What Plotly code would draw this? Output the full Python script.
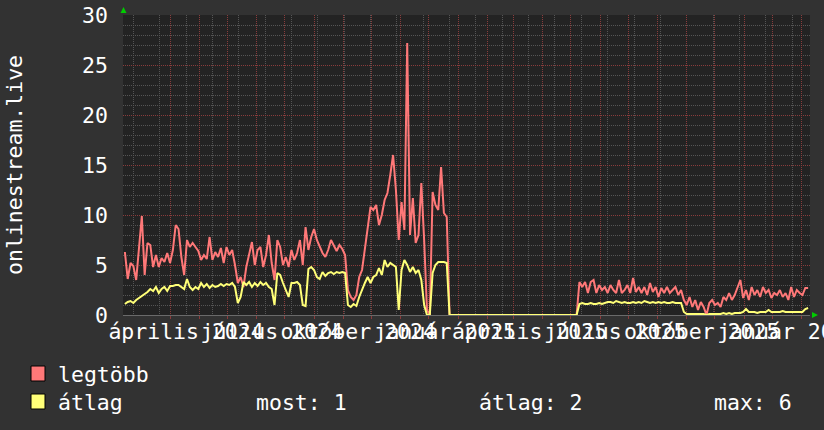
import pandas as pd
import plotly.graph_objects as go

# ---------------- data ----------------
start_date = "2024-01-27"
step_days = 3

legtobb = [
    6.3, 3.6, 5.2, 4.9, 3.5, 7.0, 9.9, 4.0, 7.2, 7.0,
    4.8, 6.0, 4.8, 5.7, 5.3, 6.2, 5.2, 6.5, 9.0, 8.6,
    5.8, 4.0, 7.5, 6.8, 7.2, 6.8, 6.4, 5.5, 6.0, 5.6,
    7.8, 5.5, 6.3, 5.8, 6.7, 5.2, 6.8, 6.0, 6.5, 5.0,
    3.2, 3.8, 2.8, 4.8, 6.0, 7.3, 5.0, 6.5, 6.8, 4.8,
    6.0, 8.0, 5.2, 3.5, 7.5, 6.8, 5.0, 5.8, 4.8, 6.5,
    5.5, 6.2, 7.5, 5.0, 8.8, 6.5, 7.8, 8.6, 7.5, 6.8,
    6.2, 5.8, 6.5, 7.5, 7.0, 6.4, 7.0, 6.6, 6.0, 2.5,
    1.8, 1.5, 2.0, 3.8, 4.5, 6.8, 8.5, 10.8, 10.5, 11.0,
    9.0, 10.0, 11.5, 12.2, 14.0, 16.0, 12.5, 7.5, 11.3, 8.5,
    27.2, 8.0, 11.7, 7.2, 8.0, 13.2, 7.5, 0.5, 0.0, 12.3,
    11.0, 10.5, 14.8, 10.2, 9.8,
    0, 0, 0, 0, 0, 0, 0, 0, 0, 0, 0, 0, 0, 0, 0, 0, 0, 0, 0, 0, 0, 0, 0,
    0, 0, 0, 0, 0, 0, 0, 0, 0, 0, 0, 0, 0, 0, 0, 0, 0, 0, 0, 0, 0, 0, 0,
    3.3, 2.8, 3.3, 2.2, 3.3, 3.5, 2.2, 3.0, 2.5, 2.8,
    2.2, 3.0, 2.5, 2.2, 3.5, 2.2, 2.5, 3.0, 2.2, 3.7,
    2.3, 2.8, 2.2, 2.8, 2.0, 3.2, 2.3, 2.8, 1.8, 2.7,
    2.2, 2.8, 2.2, 2.5, 2.8, 2.0, 2.5, 1.5, 1.0, 1.8,
    0.8, 1.5, 0.5, 1.3, 0.8, 0.0, 1.2, 1.5, 1.0, 1.2,
    0.8, 1.8, 1.5, 2.2, 1.5, 2.0, 2.8, 3.5, 1.7, 2.5,
    1.5, 2.8, 2.0, 2.5, 1.8, 2.8, 2.2, 2.5, 1.7, 2.2,
    2.0, 2.5, 1.8, 2.2, 1.5, 2.8, 1.8, 2.5, 2.2, 2.0,
    2.7, 2.7,
]

atlag = [
    1.1, 1.3, 1.4, 1.2, 1.5, 1.7, 1.9, 2.1, 2.3, 2.6,
    2.4, 2.8, 2.2, 2.6, 2.8, 2.4, 2.9, 2.9, 3.0, 3.0,
    2.8, 2.6, 3.6, 2.8, 2.5, 2.8, 2.6, 3.2, 2.8, 3.1,
    2.7, 3.0, 2.8, 2.9, 3.1, 2.9, 3.1, 3.0, 3.2, 2.8,
    1.2, 1.8, 3.3, 3.0, 3.3, 2.8, 3.2, 2.9, 3.3, 3.0,
    3.2, 2.8, 2.6, 1.0, 4.2, 4.0, 3.2, 2.5, 1.8, 3.2,
    3.2, 3.3, 3.0, 1.0, 0.9, 4.6, 4.8, 4.5, 3.8, 3.6,
    4.3, 3.9, 4.2, 4.3, 4.1, 4.3, 4.2, 4.3, 4.2, 1.0,
    0.8, 1.1, 0.9, 1.8, 2.6, 3.2, 3.8, 3.2, 3.8, 4.0,
    4.7, 4.0, 5.5, 4.8, 5.2, 5.0, 4.8, 0.5, 4.5, 5.5,
    5.0, 4.3, 4.8, 4.2, 4.5, 3.5, 1.0, 0.0, 0.0, 4.2,
    5.0, 5.3, 5.3, 5.3, 5.2,
    0, 0, 0, 0, 0, 0, 0, 0, 0, 0, 0, 0, 0, 0, 0, 0, 0, 0, 0, 0, 0, 0, 0,
    0, 0, 0, 0, 0, 0, 0, 0, 0, 0, 0, 0, 0, 0, 0, 0, 0, 0, 0, 0, 0, 0, 0,
    1.1, 1.2, 1.1, 1.1, 1.2, 1.1, 1.1, 1.2, 1.1, 1.2,
    1.3, 1.3, 1.2, 1.4, 1.3, 1.2, 1.3, 1.2, 1.2, 1.3,
    1.2, 1.3, 1.2, 1.4, 1.3, 1.2, 1.3, 1.2, 1.3, 1.2,
    1.3, 1.2, 1.2, 1.3, 1.2, 1.2, 1.2, 0.3, 0.1, 0.1,
    0.1, 0.1, 0.1, 0.1, 0.1, 0.0, 0.1, 0.1, 0.1, 0.1,
    0.1, 0.2, 0.1, 0.2, 0.1, 0.2, 0.2, 0.2, 0.3, 0.6,
    0.3, 0.3, 0.3, 0.2, 0.3, 0.3, 0.3, 0.5, 0.3, 0.3,
    0.3, 0.3, 0.4, 0.3, 0.3, 0.3, 0.3, 0.3, 0.3, 0.3,
    0.6, 0.7,
]

x_range = ["2024-01-25", "2026-01-24"]
label_dates = ["2024-04-01", "2024-07-01", "2024-10-01", "2025-01-01",
               "2025-04-01", "2025-07-01", "2025-10-01", "2026-01-01"]
label_text = ["április 2024", "július 2024", "október 2024", "január 2025",
              "április 2025", "július 2025", "október 2025", "január 2026"]
major_grid_dates = [d.strftime("%Y-%m-%d") for d in
                    pd.date_range("2024-02-15", "2026-01-15", freq="MS") + pd.Timedelta(days=14)]
minor_grid_dates = [d.strftime("%Y-%m-%d") for d in
                    pd.date_range("2024-02-05", "2026-01-24", freq="28D")]
y_ticks = [0, 5, 10, 15, 20, 25, 30]

series_names = ["legtöbb", "átlag"]
stats_text = ["most: 1", "átlag: 2", "max: 6"]
y_title = "onlinestream.live"

dates = pd.date_range(start_date, periods=len(legtobb), freq=f"{step_days}D")

# ---------------- style ----------------
FONT = "DejaVu Sans Mono"
FS = 21.5
PAPER = "#323232"
PLOT = "#232323"
RED = "#ff7878"
YEL = "#ffff78"
MAJOR = "#8a3c3c"
MINOR = "#555555"
TXT = "#ffffff"

W, H = 824, 430
L, R, T, B = 123, 14, 15, 115
PW, PH = W - L - R, H - T - B


def px(X):
    return (X - L) / PW


def py(Y):
    return (T + PH - Y) / PH


fig = go.Figure()
fig.add_trace(go.Scatter(x=dates, y=legtobb, mode="lines", name=series_names[0],
                         line=dict(color=RED, width=2), showlegend=False))
fig.add_trace(go.Scatter(x=dates, y=atlag, mode="lines", name=series_names[1],
                         line=dict(color=YEL, width=2), showlegend=False))
# invisible trace to carry the major-grid axis
fig.add_trace(go.Scatter(x=[x_range[0]], y=[0], xaxis="x2", mode="markers",
                         marker=dict(opacity=0), showlegend=False, hoverinfo="skip"))

fig.update_layout(
    width=W, height=H,
    margin=dict(l=L, r=R, t=T, b=B, autoexpand=False),
    paper_bgcolor=PAPER, plot_bgcolor=PLOT,
    font=dict(family=FONT, size=FS, color=TXT),
    xaxis=dict(
        type="date", range=x_range, automargin=False,
        tickmode="array", tickvals=label_dates, ticktext=label_text, tickangle=0,
        ticklabeloverflow="allow", ticklabelstandoff=-3,
        showgrid=False, zeroline=False, ticks="",
        tickfont=dict(family=FONT, size=FS, color=TXT),
        showline=True, linecolor="#6a6a6a", linewidth=1,
        minor=dict(tickmode="array", tickvals=minor_grid_dates, showgrid=True,
                   gridcolor=MINOR, griddash="1px,1px", gridwidth=1, ticks=""),
    ),
    xaxis2=dict(
        type="date", range=x_range, overlaying="x", side="bottom", automargin=False,
        tickmode="array", tickvals=major_grid_dates, showticklabels=False,
        showgrid=True, gridcolor=MAJOR, griddash="1px,1px", gridwidth=1,
        zeroline=False, ticks="outside", ticklen=3, tickcolor=MAJOR,
    ),
    yaxis=dict(
        range=[0, 30], tickmode="array", tickvals=y_ticks, automargin=False,
        showgrid=True, gridcolor=MAJOR, griddash="1px,1px", gridwidth=1,
        zeroline=False, ticks="", ticklabelstandoff=14,
        tickfont=dict(family=FONT, size=FS, color=TXT),
        minor=dict(dtick=1, showgrid=True, gridcolor=MINOR, griddash="1px,1px",
                   gridwidth=1, ticks=""),
    ),
)

ann = [
    dict(text=y_title, x=px(14), y=0.5, textangle=-90, xanchor="center", yanchor="middle"),
    dict(text=series_names[0], x=px(56), y=py(374), xanchor="left", yanchor="middle"),
    dict(text=series_names[1], x=px(56), y=py(402), xanchor="left", yanchor="middle"),
    dict(text=stats_text[0], x=px(254), y=py(402), xanchor="left", yanchor="middle"),
    dict(text=stats_text[1], x=px(477), y=py(402), xanchor="left", yanchor="middle"),
    dict(text=stats_text[2], x=px(712), y=py(402), xanchor="left", yanchor="middle"),
]
for a in ann:
    a.update(xref="paper", yref="paper", showarrow=False,
             font=dict(family=FONT, size=FS, color=TXT))
fig.update_layout(annotations=ann)

shapes = [
    dict(type="rect", xref="paper", yref="paper", x0=px(31), x1=px(45), y0=py(381), y1=py(366),
         fillcolor=RED, line=dict(color="#000000", width=1)),
    dict(type="rect", xref="paper", yref="paper", x0=px(31), x1=px(45), y0=py(409), y1=py(394),
         fillcolor=YEL, line=dict(color="#000000", width=1)),
    # rrd-style green arrows
    dict(type="path", xref="paper", yref="paper",
         path=f"M {px(120.5)} {py(13)} L {px(126.5)} {py(13)} L {px(123.5)} {py(7)} Z",
         fillcolor="#00cc00", line=dict(width=0)),
    dict(type="path", xref="paper", yref="paper",
         path=f"M {px(812)} {py(312)} L {px(812)} {py(318)} L {px(818)} {py(315)} Z",
         fillcolor="#00cc00", line=dict(width=0)),
]
fig.update_layout(shapes=shapes)

fig.write_html(
    "out.html",
    config={"displayModeBar": False},
    post_script=(
        "document.body.style.margin='0';"
        "document.body.style.padding='0';"
        f"document.body.style.background='{PAPER}';"
        "document.documentElement.style.background='" + PAPER + "';"
    ),
)
